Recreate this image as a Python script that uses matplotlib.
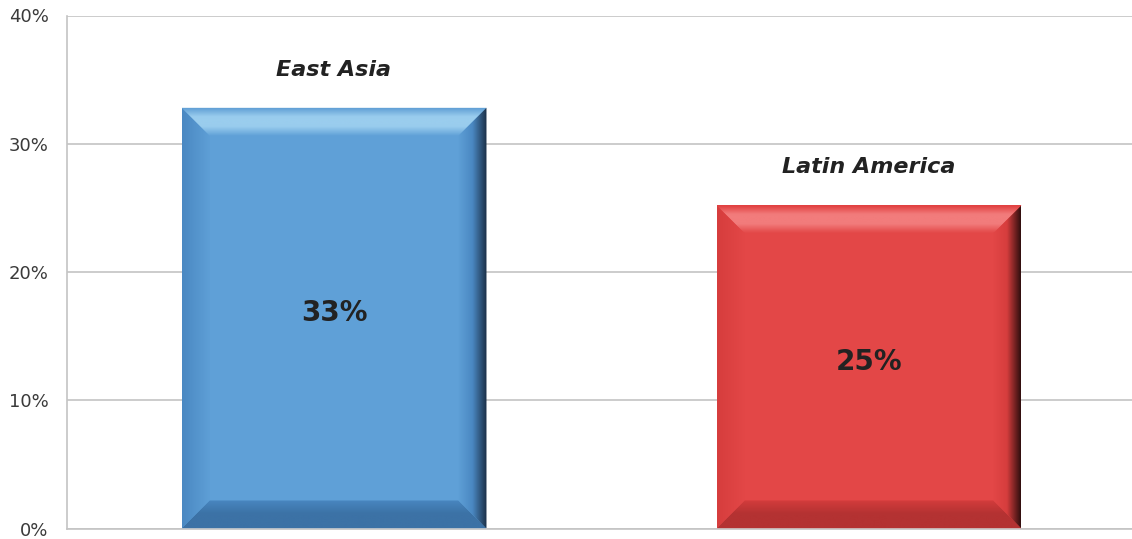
import numpy as np
import matplotlib
matplotlib.use("Agg")
import matplotlib.pyplot as plt
from matplotlib.patches import Polygon
from matplotlib.ticker import FuncFormatter

# Data
regions = ["East Asia", "Latin America"]
shares = [32.8, 25.2]
value_labels = ["33%", "25%"]
y_ticks = [0, 10, 20, 30, 40]

# Colours per bar: face, top bevel, bottom bevel, side bevel, dark edge
styles = [
    {"face": "#5FA0D7", "top": "#9ACDEE", "top_edge": "#5A9AD2", "bottom": "#3C72A6",
     "side": "#4A88C2", "edge": "#1A2E45"},
    {"face": "#E34747", "top": "#F27C7C", "top_edge": "#E03C3C", "bottom": "#B43232",
     "side": "#D63D3D", "edge": "#2E0E0E"},
]

FIG_W, FIG_H = 1132, 539


def gradient_fill(ax, verts, colors, horizontal=True, zorder=3):
    # fill a polygon with a linear gradient through the given colours
    poly = Polygon(verts, closed=True, facecolor="none", edgecolor="none")
    ax.add_patch(poly)
    xs = [v[0] for v in verts]
    ys = [v[1] for v in verts]
    cmap = matplotlib.colors.LinearSegmentedColormap.from_list("g", colors)
    grad = np.linspace(0, 1, 256)
    img = grad[np.newaxis, :] if horizontal else grad[:, np.newaxis]
    im = ax.imshow(img, cmap=cmap, extent=(min(xs), max(xs), min(ys), max(ys)),
                   origin="lower", aspect="auto", interpolation="bicubic", zorder=zorder)
    im.set_clip_path(poly)


def main():

    fig = plt.figure(figsize=(FIG_W / 100, FIG_H / 100), dpi=100)
    ax = fig.add_axes([66.5 / FIG_W, 10.5 / FIG_H, 1070 / FIG_W, 513 / FIG_H])

    x = np.arange(len(regions))
    bars = ax.bar(x, shares, width=0.57, color=[s["face"] for s in styles],
                  edgecolor="none", zorder=2)

    # bevel size in data units (about 28 px)
    bx = 28 / 535
    by = 28 / 12.825

    for bar, st, name, lab in zip(bars, styles, regions, value_labels):
        x0 = bar.get_x()
        w = bar.get_width()
        h = bar.get_height()
        x1 = x0 + w

        # top bevel: light at the inner edge
        gradient_fill(ax, [(x0, h), (x1, h), (x1 - bx, h - by), (x0 + bx, h - by)],
                      [st["face"], st["top"], st["top"], st["top_edge"]], horizontal=False)
        # bottom bevel
        gradient_fill(ax, [(x0, 0), (x1, 0), (x1 - bx, by), (x0 + bx, by)],
                      [st["bottom"], st["bottom"], st["side"]], horizontal=False)
        # left bevel
        gradient_fill(ax, [(x0, 0), (x0 + bx, by), (x0 + bx, h - by), (x0, h)],
                      [st["side"], st["face"]], horizontal=True)
        # right bevel, dark at the outer edge
        gradient_fill(ax, [(x1, 0), (x1 - bx, by), (x1 - bx, h - by), (x1, h)],
                      [st["face"], st["side"], st["edge"]], horizontal=True)

        ax.annotate(name, (x0 + w / 2, h), xytext=(0, 23), textcoords="offset points",
                    ha="center", va="baseline", fontsize=16, fontweight="bold",
                    fontstyle="italic", color="#222222", zorder=5)
        ax.text(x0 + w / 2, h / 2 + 0.4, lab, ha="center", va="center",
                fontsize=20, fontweight="bold", color="#222222", zorder=5)

    ax.set_xlim(-0.5, 1.5)
    ax.set_ylim(0, 40)

    ax.set_yticks(y_ticks)
    ax.yaxis.set_major_formatter(FuncFormatter(lambda v, p: f"{v:.0f}%"))
    ax.tick_params(axis="y", length=0, pad=13, labelsize=13, labelcolor="#3A3A3A")
    ax.set_xticks([])

    ax.grid(axis="y", color="#C4C4C4", linewidth=1.2, zorder=0)
    ax.set_axisbelow(True)
    for side in ["top", "right"]:
        ax.spines[side].set_visible(False)
    for side in ["left", "bottom"]:
        ax.spines[side].set_color("#C4C4C4")
        ax.spines[side].set_linewidth(1.2)

    fig.savefig("out.png", dpi=100)


if __name__ == "__main__":
    main()
